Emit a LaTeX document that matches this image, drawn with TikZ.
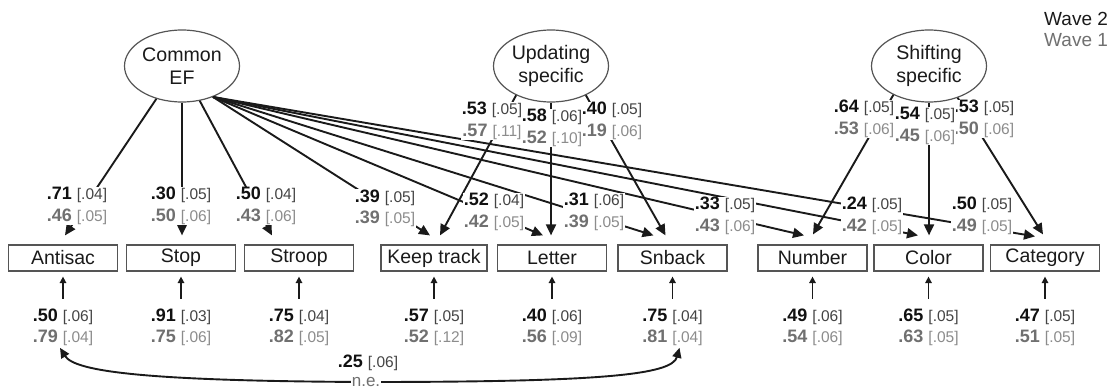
\documentclass[tikz,border=0pt]{standalone}
\usepackage{fontspec}
\setmainfont{Liberation Sans}
\usetikzlibrary{arrows.meta,shapes.geometric,calc}
\definecolor{ink}{HTML}{1A1A1A}
\definecolor{edge}{HTML}{555555}
\definecolor{wtwoN}{HTML}{111111}
\definecolor{wtwoB}{HTML}{444444}
\definecolor{woneN}{HTML}{707070}
\definecolor{woneB}{HTML}{8C8C8C}
% standard error in brackets, set smaller
\newcommand\brk[1]{{\fontsize{15.5}{21.5}\selectfont[#1]}}
% two-line estimate: wave 2 above, wave 1 below
\newcommand\est[4]{{\color{wtwoN}\textbf{#1} \color{wtwoB}\brk{#2}}\\{\color{woneN}\textbf{#3} \color{woneB}\brk{#4}}}
\begin{document}
\begin{tikzpicture}[x=1pt,y=-1pt,
  latent/.style={ellipse, draw=edge, line width=1.2pt, minimum width=115pt, minimum height=72pt,
    inner sep=0pt, align=center, font=\fontsize{19.6}{23}\selectfont, text=ink},
  task/.style={rectangle, draw=edge, line width=1.2pt, minimum width=109pt, minimum height=26pt,
    inner sep=0pt, font=\fontsize{19.5}{22}\selectfont, text=ink},
  load/.style={draw=ink, line width=1.9pt, -{Triangle[length=11pt,width=10pt]}},
  lbl/.style={fill=white, inner sep=0.5pt, align=center, font=\fontsize{18}{21.5}\selectfont},
  errarr/.style={draw=ink, line width=1.5pt, -{Triangle[length=6.5pt,width=6.5pt]}},
  corr/.style={draw=ink, line width=1.9pt, {Triangle[length=10pt,width=9pt]}-{Triangle[length=10pt,width=9pt]}},
]
\useasboundingbox (0,0) rectangle (1115,391);

% latent factors
\node[latent] (cef) at (182,66) {Common\\EF};
\node[latent] (upd) at (551,66) {Updating\\specific};
\node[latent] (shf) at (929,66) {Shifting\\specific};

% observed tasks
\node[task] (anti) at (63,258) {Antisac};
\node[task] (stop) at (181,258) {Stop};
\node[task] (stro) at (299,258) {Stroop};
\node[task,minimum width=106pt] (keep) at (434,258) {Keep track};
\node[task] (lett) at (552,258) {Letter};
\node[task] (snb) at (672.5,258) {Snback};
\node[task] (numb) at (812.5,258) {Number};
\node[task] (colr) at (928.5,258) {Color};
\node[task] (cate) at (1045,258) {Category};

% arrow ends just above the task boxes
\coordinate (anti-c) at ($(anti.north)+(2,-9)$);
\coordinate (stop-c) at ($(cef.south |- stop.north)+(0,-9)$);
\coordinate (stro-c) at ($(stro.north)+(-27,-9)$);
\coordinate (keep-c) at ($(keep.north)+(-4,-9)$);
\coordinate (keep-u) at ($(keep.north)+(6,-9)$);
\coordinate (lett-c) at ($(lett.north)+(-9,-9)$);
\coordinate (lett-u) at ($(upd.south |- lett.north)+(0,-9)$);
\coordinate (snb-c) at ($(snb.north)+(-19,-9)$);
\coordinate (snb-u) at ($(snb.north)+(-7,-9)$);
\coordinate (numb-c) at ($(numb.north)+(-8.5,-9)$);
\coordinate (numb-s) at ($(numb.north)+(0.5,-10)$);
\coordinate (colr-c) at ($(colr.north)+(-10.5,-9)$);
\coordinate (colr-s) at ($(shf.south |- colr.north)+(0,-9)$);
\coordinate (cate-c) at ($(cate.north)+(-10,-8)$);
\coordinate (cate-s) at ($(cate.north)+(-2,-10)$);

% common EF loadings
\draw[load] (cef.-128) -- (anti-c);
\draw[load] (cef.south) -- (stop-c);
\draw[load] (cef.-63) -- (stro-c);
\foreach \t in {keep-c,lett-c,snb-c,numb-c,colr-c,cate-c}
  \draw[load] (cef.-45) -- (\t);
% updating-specific loadings
\draw[load] (upd.-140) -- (keep-u);
\draw[load] (upd.south) -- (lett-u);
\draw[load] (upd.-40) -- (snb-u);
% shifting-specific loadings
\draw[load] (shf.-141) -- (numb-s);
\draw[load] (shf.south) -- (colr-s);
\draw[load] (shf.-48) -- (cate-s);

% loading estimates
\node[lbl] (la1) at (77,206) {\est{.71}{.04}{.46}{.05}};
\node[lbl] (la2) at (181,206) {\est{.30}{.05}{.50}{.06}};
\node[lbl] (la3) at (266,206) {\est{.50}{.04}{.43}{.06}};
\node[lbl] (la4) at (385,208.5) {\est{.39}{.05}{.39}{.05}};
\node[lbl] (la5) at (494,212) {\est{.52}{.04}{.42}{.05}};
\node[lbl] (la6) at (594,212) {\est{.31}{.06}{.39}{.05}};
\node[lbl] (la7) at (725,216) {\est{.33}{.05}{.43}{.06}};
\node[lbl] (la8) at (872,216) {\est{.24}{.05}{.42}{.05}};
\node[lbl] (la9) at (982,216) {\est{.50}{.05}{.49}{.05}};
\node[lbl] (lu1) at (492,121) {\est{.53}{.05}{.57}{.11}};
\node[lbl] (lu3) at (612,121) {\est{.40}{.05}{.19}{.06}};
\node[lbl] (lu2) at (552,128) {\est{.58}{.06}{.52}{.10}};
\node[lbl] (ls1) at (864,119) {\est{.64}{.05}{.53}{.06}};
\node[lbl] (ls3) at (984,119) {\est{.53}{.05}{.50}{.06}};
\node[lbl] (ls2) at (925,126) {\est{.54}{.05}{.45}{.06}};

% residual variances
\node[lbl] (e-anti) at (63,327.5) {\est{.50}{.06}{.79}{.04}};
\node[lbl] (e-stop) at (181,327.5) {\est{.91}{.03}{.75}{.06}};
\node[lbl] (e-stro) at (299,327.5) {\est{.75}{.04}{.82}{.05}};
\node[lbl] (e-keep) at (434,327.5) {\est{.57}{.05}{.52}{.12}};
\node[lbl] (e-lett) at (552,327.5) {\est{.40}{.06}{.56}{.09}};
\node[lbl] (e-snb) at (672.5,327.5) {\est{.75}{.04}{.81}{.04}};
\node[lbl] (e-numb) at (812.5,327.5) {\est{.49}{.06}{.54}{.06}};
\node[lbl] (e-colr) at (928.5,327.5) {\est{.65}{.05}{.63}{.05}};
\node[lbl] (e-cate) at (1045,327.5) {\est{.47}{.05}{.51}{.05}};
\foreach \b in {anti,stop,stro,keep,lett,snb,numb,colr,cate}
  \draw[errarr] ($(\b.south)+(0,27)$) -- ($(\b.south)+(0,5)$);

% residual correlation
\draw[corr] ($(e-anti.south)+(-3,1)$) .. controls (75,372) and (150,381) .. (366,382)
  .. controls (600,382) and (672,375) .. ($(e-snb.south)+(7,1)$);
\node[lbl, font=\fontsize{17}{20}\selectfont, text=woneN] (ne) at (366,382) {n.e.};
\node[font=\fontsize{18}{21.5}\selectfont, inner sep=0.5pt] (rc) at (368,363) {\color{wtwoN}\textbf{.25} \color{wtwoB}\brk{.06}};

% legend
\node[anchor=west, inner sep=0pt, font=\fontsize{19}{22}\selectfont, text=ink] (w2) at (1044,19) {Wave 2};
\node[anchor=west, inner sep=0pt, font=\fontsize{19}{22}\selectfont, text=woneN] (w1) at (1044,40) {Wave 1};
\end{tikzpicture}
\end{document}
